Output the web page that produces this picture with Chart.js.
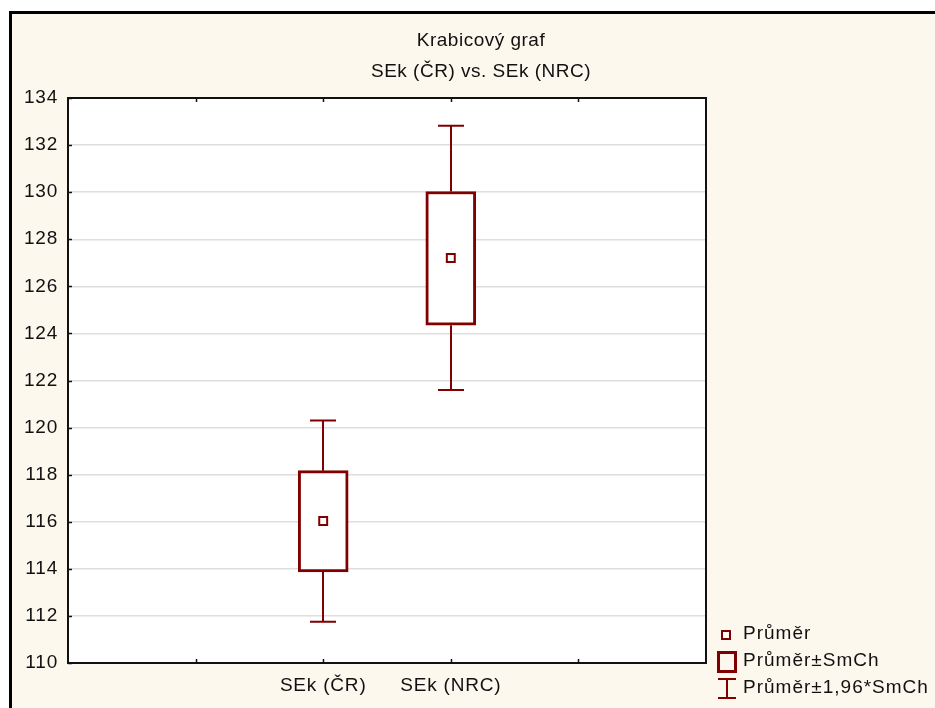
<!DOCTYPE html>
<html lang="cs">
<head>
    <meta charset="UTF-8">
    <title>Krabicový graf</title>
    <script src="https://cdn.jsdelivr.net/npm/chart.js"></script>
    <style>
        html, body { margin: 0; padding: 0; background: #ffffff; }
        #wrap { width: 935px; height: 708px; position: relative; }
    </style>
</head>
<body>
    <div id="wrap">
        <canvas id="boxChart" width="935" height="708"></canvas>
    </div>

    <script>
        // data
        const categories = ['SEk (ČR)', 'SEk (NRC)'];
        const categoryPos = [2, 3];
        const means = [116.03, 127.2];
        const boxLow = [113.87, 124.35];      // průměr - SmCh
        const boxHigh = [118.17, 130.03];     // průměr + SmCh
        const whiskerLow = [111.75, 121.6];   // průměr - 1,96*SmCh
        const whiskerHigh = [120.3, 132.82];  // průměr + 1,96*SmCh
        const yTicks = [110, 112, 114, 116, 118, 120, 122, 124, 126, 128, 130, 132, 134];

        const titleLines = ['Krabicový graf', 'SEk (ČR) vs. SEk (NRC)'];
        const legendLabels = ['Průměr', 'Průměr±SmCh', 'Průměr±1,96*SmCh'];

        const RED = '#800000';
        const CREAM = '#fdf8ee';
        const FAMILY = '"Liberation Sans", Arial, sans-serif';
        const FONT = '19px ' + FAMILY;
        const SPACING = '0.8px';

        // background, frame, title, legend, whiskers, ticks
        const decorPlugin = {
            id: 'decor',
            beforeDraw(chart) {
                const ctx = chart.ctx;
                const a = chart.chartArea;
                ctx.save();
                ctx.fillStyle = '#ffffff';
                ctx.fillRect(0, 0, chart.width, chart.height);
                ctx.fillStyle = CREAM;
                ctx.fillRect(10, 12, chart.width - 10, chart.height - 12);
                ctx.strokeStyle = '#000';
                ctx.lineWidth = 3;
                ctx.beginPath();
                ctx.moveTo(10.5, chart.height);
                ctx.lineTo(10.5, 12.5);
                ctx.lineTo(chart.width, 12.5);
                ctx.stroke();
                ctx.fillStyle = '#ffffff';
                ctx.fillRect(a.left, a.top, a.right - a.left, a.bottom - a.top);
                ctx.restore();
                // wider letter spacing for all text, like the original
                ctx.letterSpacing = SPACING;
            },
            beforeDatasetsDraw(chart) {
                const ctx = chart.ctx;
                const xs = chart.scales.x;
                const ys = chart.scales.y;
                ctx.save();
                ctx.strokeStyle = RED;
                ctx.lineWidth = 2;
                categoryPos.forEach((p, i) => {
                    const x = Math.round(xs.getPixelForValue(p));
                    const yTop = ys.getPixelForValue(whiskerHigh[i]);
                    const yBoxTop = ys.getPixelForValue(boxHigh[i]);
                    const yBoxBot = ys.getPixelForValue(boxLow[i]);
                    const yBot = ys.getPixelForValue(whiskerLow[i]);
                    ctx.beginPath();
                    ctx.moveTo(x, yTop); ctx.lineTo(x, yBoxTop);
                    ctx.moveTo(x, yBoxBot); ctx.lineTo(x, yBot);
                    ctx.moveTo(x - 13, yTop); ctx.lineTo(x + 13, yTop);
                    ctx.moveTo(x - 13, yBot); ctx.lineTo(x + 13, yBot);
                    ctx.stroke();
                });
                ctx.restore();
            },
            afterDraw(chart) {
                const ctx = chart.ctx;
                const a = chart.chartArea;
                const xs = chart.scales.x;
                const ys = chart.scales.y;
                ctx.save();

                // plot frame and inward ticks
                ctx.strokeStyle = '#111';
                ctx.lineWidth = 2;
                ctx.strokeRect(a.left, a.top, a.right - a.left, a.bottom - a.top);
                ctx.lineWidth = 1.5;
                ctx.beginPath();
                [1, 2, 3, 4].forEach(v => {
                    const x = Math.round(xs.getPixelForValue(v)) + 0.5;
                    ctx.moveTo(x, a.bottom); ctx.lineTo(x, a.bottom - 4);
                    ctx.moveTo(x, a.top); ctx.lineTo(x, a.top + 4);
                });
                yTicks.forEach(v => {
                    const y = Math.round(ys.getPixelForValue(v)) + 0.5;
                    ctx.moveTo(a.left, y); ctx.lineTo(a.left + 4, y);
                });
                ctx.stroke();

                // title
                ctx.fillStyle = '#111';
                ctx.font = FONT;
                ctx.letterSpacing = '0.5px';
                ctx.textAlign = 'center';
                ctx.textBaseline = 'middle';
                ctx.fillText(titleLines[0], 481, 41);
                ctx.fillText(titleLines[1], 481, 72);

                // legend
                ctx.letterSpacing = '1px';
                ctx.textAlign = 'left';
                const tx = 743;
                const rows = [634, 661, 688];
                ctx.strokeStyle = RED;
                ctx.fillStyle = '#ffffff';
                ctx.lineWidth = 2;
                ctx.fillRect(722, 631, 8, 8);
                ctx.strokeRect(722, 631, 8, 8);
                ctx.lineWidth = 3;
                ctx.strokeRect(718.5, 652.5, 17, 19);
                ctx.lineWidth = 2;
                ctx.beginPath();
                ctx.moveTo(718, 679); ctx.lineTo(736, 679);
                ctx.moveTo(727, 679); ctx.lineTo(727, 698);
                ctx.moveTo(718, 698); ctx.lineTo(736, 698);
                ctx.stroke();
                ctx.fillStyle = '#111';
                legendLabels.forEach((t, i) => ctx.fillText(t, tx, rows[i]));

                ctx.restore();
            }
        };

        const boxData = categoryPos.map((p, i) => ({ x: p, y: [boxLow[i], boxHigh[i]] }));
        const meanData = categoryPos.map((p, i) => ({ x: p, y: means[i] }));

        new Chart(document.getElementById('boxChart'), {
            type: 'bar',
            data: {
                datasets: [
                    {
                        type: 'scatter',
                        label: legendLabels[0],
                        data: meanData,
                        pointStyle: 'rect',
                        pointRadius: 5.6,
                        pointBorderWidth: 2,
                        pointBorderColor: RED,
                        pointBackgroundColor: '#ffffff',
                        order: 0
                    },
                    {
                        type: 'bar',
                        label: legendLabels[1],
                        data: boxData,
                        barThickness: 50,
                        borderWidth: 3,
                        borderColor: RED,
                        borderSkipped: false,
                        backgroundColor: 'rgba(255,255,255,1)',
                        order: 1
                    }
                ]
            },
            options: {
                responsive: false,
                animation: false,
                layout: { padding: { top: 98, right: 229, left: 0, bottom: 0 } },
                plugins: {
                    legend: { display: false },
                    title: { display: false },
                    tooltip: { enabled: false }
                },
                scales: {
                    x: {
                        type: 'linear',
                        min: 0,
                        max: 5,
                        offset: false,
                        grid: { display: false, drawTicks: false },
                        border: { display: false },
                        afterFit(scale) { scale.height = 45; },
                        afterBuildTicks(scale) {
                            scale.ticks = [0, 1, 2, 3, 4, 5].map(v => ({ value: v }));
                        },
                        ticks: {
                            autoSkip: false,
                            maxRotation: 0,
                            padding: 11,
                            color: '#111',
                            font: { family: FAMILY, size: 19 },
                            callback(v) {
                                const i = categoryPos.indexOf(v);
                                return i >= 0 ? categories[i] : '';
                            }
                        }
                    },
                    y: {
                        min: 110,
                        max: 134,
                        grid: { color: '#dedede', lineWidth: 1.5, drawTicks: false },
                        border: { display: false },
                        afterFit(scale) { scale.width = 68; },
                        afterBuildTicks(scale) {
                            scale.ticks = yTicks.map(v => ({ value: v }));
                        },
                        ticks: {
                            padding: 10,
                            color: '#111',
                            font: { family: FAMILY, size: 19 }
                        }
                    }
                }
            },
            plugins: [decorPlugin]
        });
    </script>
</body>
</html>
